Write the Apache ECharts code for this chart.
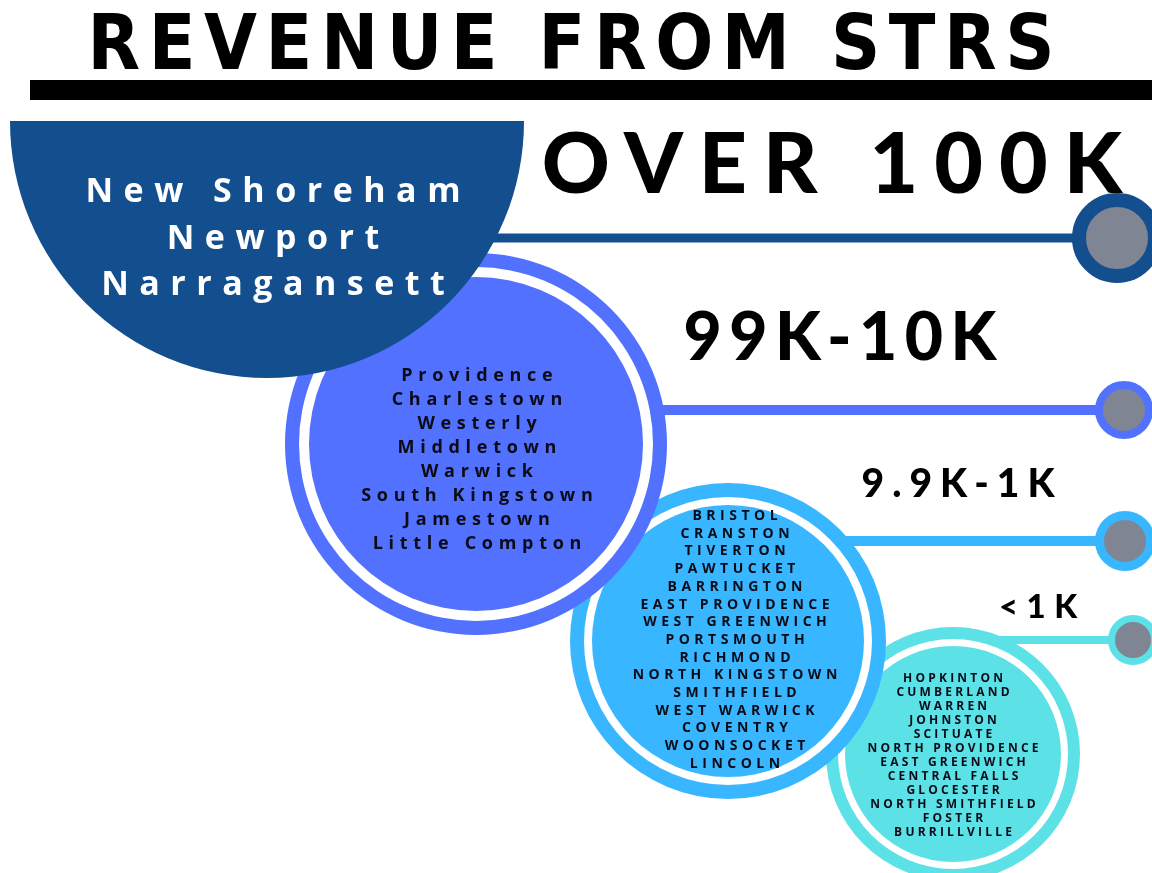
<!DOCTYPE html>
<html>
<head>
<meta charset="utf-8">
<title>Revenue from STRs</title>
<script src="https://cdn.jsdelivr.net/npm/echarts@6/dist/echarts.min.js"></script>
<style>
  html, body { margin: 0; padding: 0; background: #fff; }
  #chart { width: 1152px; height: 873px; }
</style>
</head>
<body>
<div id="chart"></div>
<script>
// revenue tiers, top to bottom
var tiers = ['OVER 100K', '99K-10K', '9.9K-1K', '<1K'];

// towns in each tier
var townsOver100k = ['New Shoreham', 'Newport', 'Narragansett'];
var towns10kTo99k = ['Providence', 'Charlestown', 'Westerly', 'Middletown', 'Warwick',
  'South Kingstown', 'Jamestown', 'Little Compton'];
var towns1kTo9k = ['BRISTOL', 'CRANSTON', 'TIVERTON', 'PAWTUCKET', 'BARRINGTON',
  'EAST PROVIDENCE', 'WEST GREENWICH', 'PORTSMOUTH', 'RICHMOND', 'NORTH KINGSTOWN',
  'SMITHFIELD', 'WEST WARWICK', 'COVENTRY', 'WOONSOCKET', 'LINCOLN'];
var townsUnder1k = ['HOPKINTON', 'CUMBERLAND', 'WARREN', 'JOHNSTON', 'SCITUATE',
  'NORTH PROVIDENCE', 'EAST GREENWICH', 'CENTRAL FALLS', 'GLOCESTER', 'NORTH SMITHFIELD',
  'FOSTER', 'BURRILLVILLE'];
var townLists = [townsOver100k, towns10kTo99k, towns1kTo9k, townsUnder1k];

// look
var tierColors = ['#134e8e', '#5271ff', '#38b6ff', '#5ce1e6'];
var dotGray = '#7f8592';
var inkColor = '#0b0b18';
var titleFont = '"DejaVu Sans Condensed", "Liberation Sans Narrow", sans-serif';
var headFont = 'Lato, "Open Sans", sans-serif';
var nameFont = '"Open Sans", Lato, sans-serif';

// layout, in the hidden axis units (1 unit = 1px of the page)
var layout = [
  { cx: 267, cy: 121, r: 257, ring: 0, gap: 0, half: true,
    namesX: 273, namesY: 239, nameSize: 34, nameLine: 46.5,
    lineY: 238, lineW: 9, dotX: 1117, dotSize: 76, dotBorder: 14,
    headX: 832, headY: 166, headSize: 84 },
  { cx: 476, cy: 444, r: 191, ring: 14, gap: 10,
    namesX: 477, namesY: 460, nameSize: 18, nameLine: 24,
    lineY: 410, lineW: 10, dotX: 1124, dotSize: 50, dotBorder: 8,
    headX: 840, headY: 339, headSize: 66 },
  { cx: 728, cy: 641, r: 158, ring: 14, gap: 8,
    namesX: 735, namesY: 640, nameSize: 14, nameLine: 17.7,
    lineY: 541, lineW: 10, dotX: 1125, dotSize: 51, dotBorder: 9,
    headX: 958, headY: 484, headSize: 39 },
  { cx: 953, cy: 754, r: 127, ring: 12, gap: 7,
    namesX: 953, namesY: 756, nameSize: 12, nameLine: 14,
    lineY: 640, lineW: 8, dotX: 1133, dotSize: 43, dotBorder: 7,
    headX: 1038, headY: 607, headSize: 33 }
];

// letter spacing (px) by font size, canvas text has no option for it in echarts
var tracking = { 76: 8.6, 84: 16, 66: 7.5, 39: 8, 33: 8.5, 34: 10.5, 18: 5.7, 14: 4.5, 12: 3.2 };
(function () {
  var proto = CanvasRenderingContext2D.prototype;
  var fill = proto.fillText;
  proto.fillText = function (text, x, y, maxW) {
    var m = /(\d+(\.\d+)?)px/.exec(this.font);
    var sp = m ? (tracking[Math.round(parseFloat(m[1]))] || 0) : 0;
    this.letterSpacing = sp + 'px';
    if (this.textAlign === 'center') x += sp / 2;
    else if (this.textAlign === 'right' || this.textAlign === 'end') x += sp;
    return maxW === undefined ? fill.call(this, text, x, y) : fill.call(this, text, x, y, maxW);
  };
})();

var chartDom = document.getElementById('chart');
var myChart = echarts.init(chartDom, null, { renderer: 'canvas' });

// connector lines, one per tier
var lineSeries = layout.map(function (l, i) {
  return {
    type: 'line',
    z: 1,
    silent: true,
    symbol: 'none',
    data: [[l.cx, l.lineY], [l.dotX, l.lineY]],
    lineStyle: { color: tierColors[i], width: l.lineW, cap: 'butt' }
  };
});

// upper tiers sit on top of lower ones
var discOrder = [3, 2, 1, 0];

var option = {
  backgroundColor: '#fff',
  animation: false,
  title: {
    text: 'REVENUE FROM STRS',
    left: 571,
    top: 11,
    padding: 0,
    textAlign: 'center',
    textVerticalAlign: 'top',
    textStyle: { fontFamily: titleFont, fontWeight: 'bold', fontSize: 76, lineHeight: 76, color: '#000' }
  },
  grid: { left: 0, right: 0, top: 0, bottom: 0 },
  xAxis: { type: 'value', min: 0, max: 1152, show: false },
  yAxis: { type: 'value', min: 0, max: 873, inverse: true, show: false },
  series: lineSeries.concat([
    {
      // rule under the title
      type: 'line',
      z: 1,
      silent: true,
      symbol: 'none',
      data: [[30, 90], [1152, 90]],
      lineStyle: { color: '#000', width: 20, cap: 'butt' }
    },
    {
      type: 'custom',
      z: 2,
      silent: true,
      data: discOrder.map(function (t) { return [layout[t].cx, layout[t].cy, t]; }),
      encode: { x: 0, y: 1 },
      renderItem: function (params, api) {
        var t = api.value(2);
        var l = layout[t];
        var c = api.coord([l.cx, l.cy]);
        var k = api.size([1, 1])[0];
        var color = tierColors[t];
        if (l.half) {
          return {
            type: 'sector',
            shape: { cx: c[0], cy: c[1], r0: 0, r: l.r * k, startAngle: 0, endAngle: Math.PI, clockwise: true },
            style: { fill: color }
          };
        }
        return {
          type: 'group',
          children: [
            { type: 'circle', shape: { cx: c[0], cy: c[1], r: l.r * k }, style: { fill: color } },
            { type: 'circle', shape: { cx: c[0], cy: c[1], r: (l.r - l.ring) * k }, style: { fill: '#fff' } },
            { type: 'circle', shape: { cx: c[0], cy: c[1], r: (l.r - l.ring - l.gap) * k }, style: { fill: color } }
          ]
        };
      }
    },
    {
      // end dots
      type: 'scatter',
      z: 3,
      silent: true,
      itemStyle: { opacity: 1 },
      data: layout.map(function (l, i) {
        return {
          value: [l.dotX, l.lineY],
          symbolSize: l.dotSize,
          itemStyle: { color: dotGray, borderColor: tierColors[i], borderWidth: l.dotBorder }
        };
      })
    },
    {
      // tier headings
      type: 'scatter',
      z: 4,
      silent: true,
      symbolSize: 0,
      itemStyle: { opacity: 1 },
      data: layout.map(function (l, i) {
        return {
          name: tiers[i],
          value: [l.headX, l.headY],
          label: { fontSize: l.headSize, lineHeight: l.headSize }
        };
      }),
      label: {
        show: true,
        position: 'inside',
        formatter: '{b}',
        color: '#000',
        opacity: 1,
        fontFamily: headFont,
        fontWeight: 900,
        textBorderWidth: 0
      }
    },
    {
      // town names inside the discs
      type: 'scatter',
      z: 5,
      silent: true,
      symbolSize: 0,
      itemStyle: { opacity: 1 },
      data: layout.map(function (l, i) {
        return {
          value: [l.namesX, l.namesY],
          label: { fontSize: l.nameSize, lineHeight: l.nameLine, color: i === 0 ? '#fff' : inkColor }
        };
      }),
      label: {
        show: true,
        position: 'inside',
        align: 'center',
        verticalAlign: 'middle',
        opacity: 1,
        fontFamily: nameFont,
        fontWeight: 'bold',
        textBorderWidth: 0,
        formatter: function (p) { return townLists[p.dataIndex].join('\n'); }
      }
    }
  ])
};

option && myChart.setOption(option);
</script>
</body>
</html>
